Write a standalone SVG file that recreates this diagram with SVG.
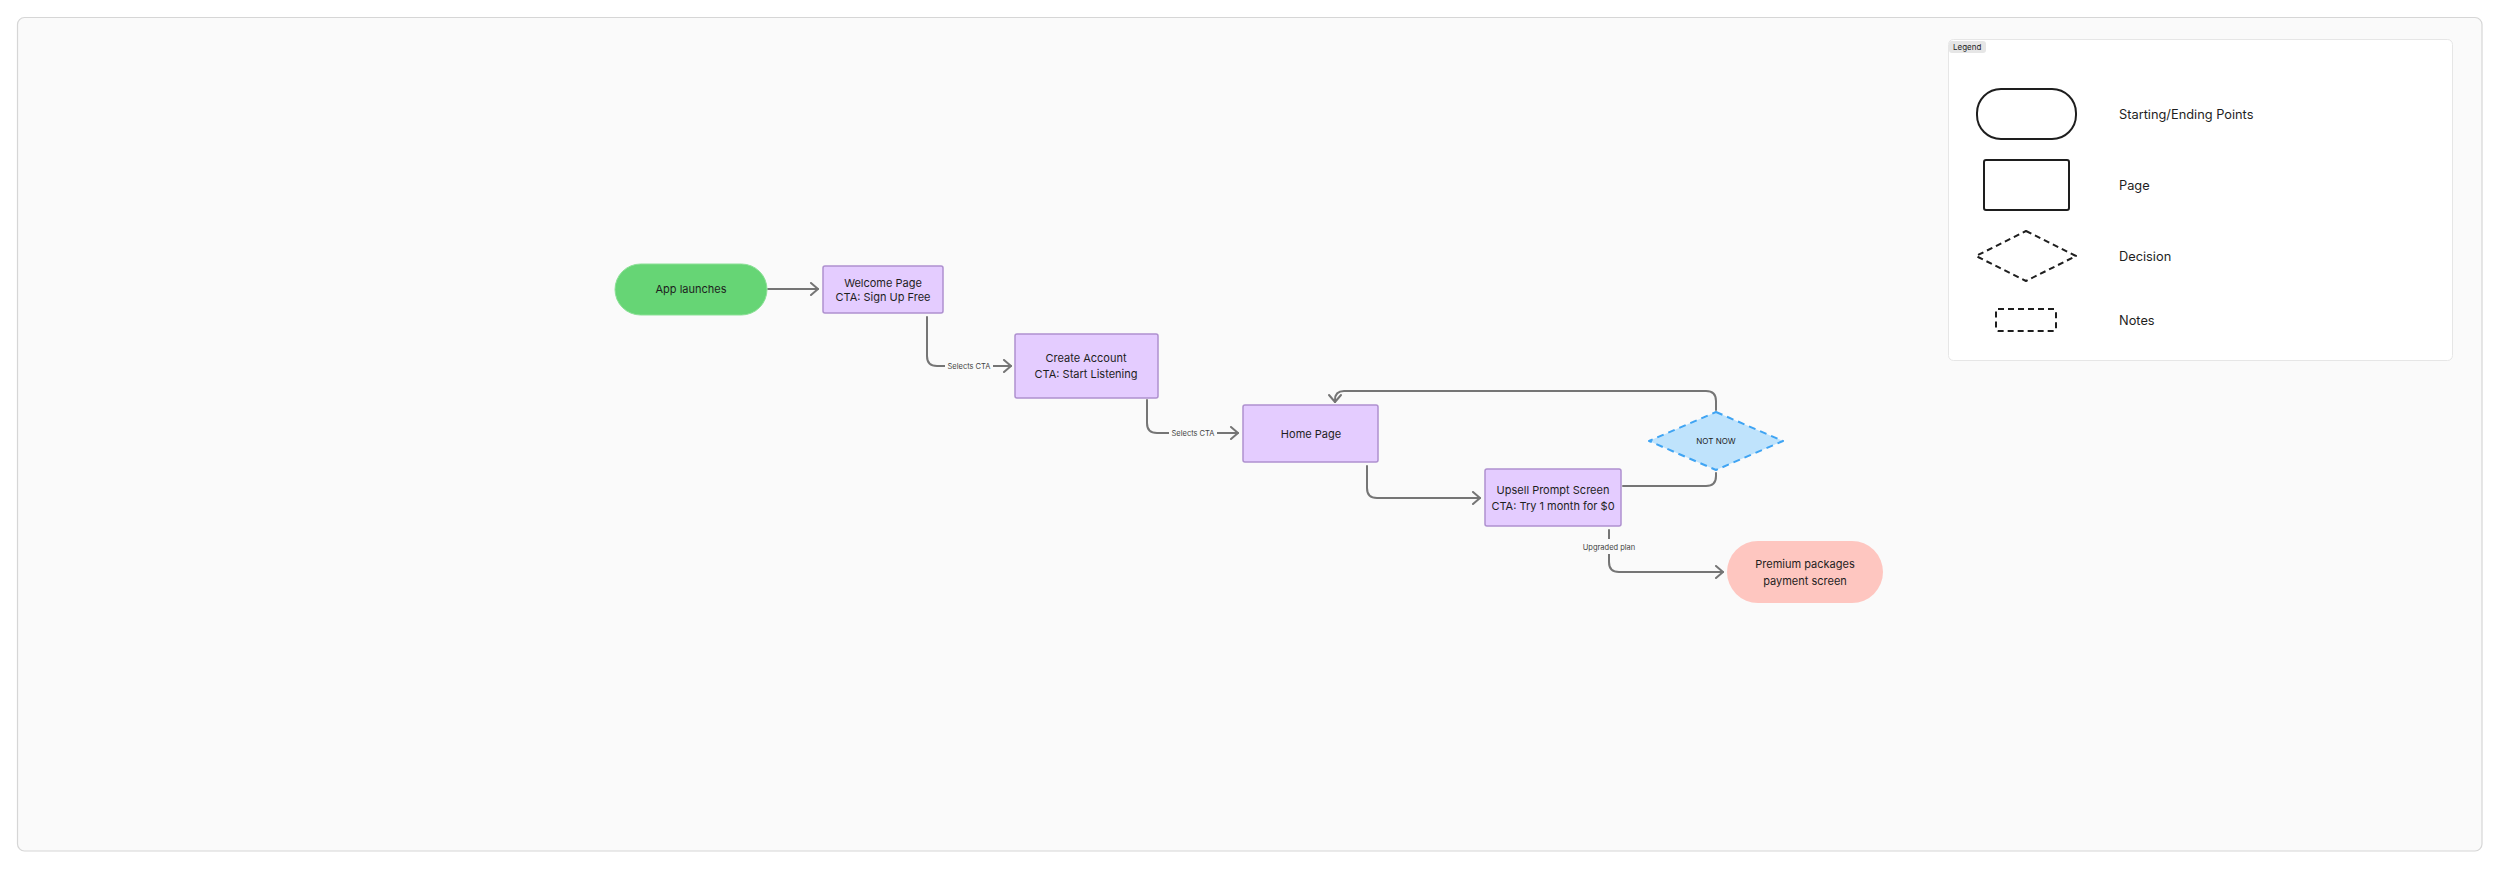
<svg xmlns="http://www.w3.org/2000/svg" width="2500" height="869" viewBox="0 0 2500 869">
<style>
text{font-family:Inter,"Liberation Sans",sans-serif;fill:#1e1e1e}
.t{font-size:11px;text-anchor:middle}
.lbl{font-size:7.5px;text-anchor:middle;fill:#444}
.lg{font-size:12.8px}
.page{fill:#e4ccff;stroke:#ae90cf;stroke-width:1.5}
.conn{fill:none;stroke:#757575;stroke-width:2;stroke-linecap:round;stroke-linejoin:round}
.gap{fill:#fafafa}
.lgs{fill:none;stroke:#1e1e1e;stroke-width:2}
.dash{stroke-dasharray:6 4}
</style>
<defs>
<marker id="arr" markerWidth="12" markerHeight="14" refX="9" refY="7" orient="auto" markerUnits="userSpaceOnUse">
<path d="M2,1 L9,7 L2,13" fill="none" stroke="#757575" stroke-width="2" stroke-linecap="round" stroke-linejoin="round"/>
</marker>
</defs>
<rect width="2500" height="869" fill="#ffffff"/>
<rect id="frame" x="17.5" y="17.5" width="2464.5" height="833.5" rx="7" fill="#fafafa" stroke="#d6d6d6" stroke-width="1.2"/>

<g id="connectors">
<path class="conn" d="M768,289 H818" marker-end="url(#arr)"/>
<path class="conn" d="M927,317 V356 Q927,366 937,366 H1011" marker-end="url(#arr)"/>
<rect class="gap" x="945" y="360" width="48" height="12"/>
<text class="lbl" x="969" y="368.5">Selects CTA</text>
<path class="conn" d="M1147,400 V423 Q1147,433 1157,433 H1238" marker-end="url(#arr)"/>
<rect class="gap" x="1169" y="427" width="48" height="12"/>
<text class="lbl" x="1193" y="435.5">Selects CTA</text>
<path class="conn" d="M1367,466 V488 Q1367,498 1377,498 H1480" marker-end="url(#arr)"/>
<path class="conn" d="M1623,486 H1706 Q1716,486 1716,476 V473"/>
<path class="conn" d="M1716,410 V401 Q1716,391 1706,391 H1344 Q1335,391 1335,400 V402" marker-end="url(#arr)"/>
<path class="conn" d="M1609,530 V562 Q1609,572 1619,572 H1723" marker-end="url(#arr)"/>
<rect class="gap" x="1580" y="539" width="58" height="15"/>
<text class="lbl" x="1609" y="549.5">Upgraded plan</text>
</g>

<g id="app-launches">
<rect x="615" y="264" width="152" height="51" rx="25.5" fill="#66d575" stroke="#8be096" stroke-width="1"/>
<text class="t" x="691" y="293">App launches</text>
</g>

<g id="welcome-page">
<rect class="page" x="823" y="266" width="120" height="47" rx="2"/>
<text class="t" x="883" y="287">Welcome Page</text>
<text class="t" x="883" y="301">CTA: Sign Up Free</text>
</g>

<g id="create-account">
<rect class="page" x="1015" y="334" width="143" height="64" rx="2"/>
<text class="t" x="1086" y="362">Create Account</text>
<text class="t" x="1086" y="378">CTA: Start Listening</text>
</g>

<g id="home-page">
<rect class="page" x="1243" y="405" width="135" height="57" rx="2"/>
<text class="t" x="1311" y="438">Home Page</text>
</g>

<g id="upsell">
<rect class="page" x="1485" y="469" width="136" height="57" rx="2"/>
<text class="t" x="1553" y="494">Upsell Prompt Screen</text>
<text class="t" x="1553" y="510">CTA: Try 1 month for $0</text>
</g>

<g id="not-now">
<path d="M1716,412 L1783,441 L1716,470 L1649,441 Z" fill="#bfe3fc" stroke="#3fa4f3" stroke-width="2" stroke-dasharray="7 5" stroke-linejoin="round"/>
<text x="1716" y="444" style="font-size:8px;text-anchor:middle">NOT NOW</text>
</g>

<g id="premium">
<rect x="1727" y="541" width="156" height="62" rx="31" fill="#fec6c0"/>
<text class="t" x="1805" y="568">Premium packages</text>
<text class="t" x="1805" y="585">payment screen</text>
</g>

<g id="legend">
<rect x="1948.5" y="39.5" width="504" height="321" rx="5" fill="#ffffff" stroke="#e6e6e6" stroke-width="1"/>
<rect x="1949" y="41" width="37" height="12" rx="3" fill="#e6e6e6"/>
<text x="1953" y="50" style="font-size:8px">Legend</text>
<rect class="lgs" x="1977" y="89" width="99" height="50" rx="24"/>
<text class="lg" x="2119" y="118.5">Starting/Ending Points</text>
<rect class="lgs" x="1984" y="160" width="85" height="50" rx="2"/>
<text class="lg" x="2119" y="190">Page</text>
<path class="lgs dash" d="M2026,231 L2076,256 L2026,281 L1976,256 Z" stroke-linejoin="round"/>
<text class="lg" x="2119" y="261">Decision</text>
<rect class="lgs dash" x="1996" y="309" width="60" height="22" rx="2"/>
<text class="lg" x="2119" y="324.5">Notes</text>
</g>
</svg>
